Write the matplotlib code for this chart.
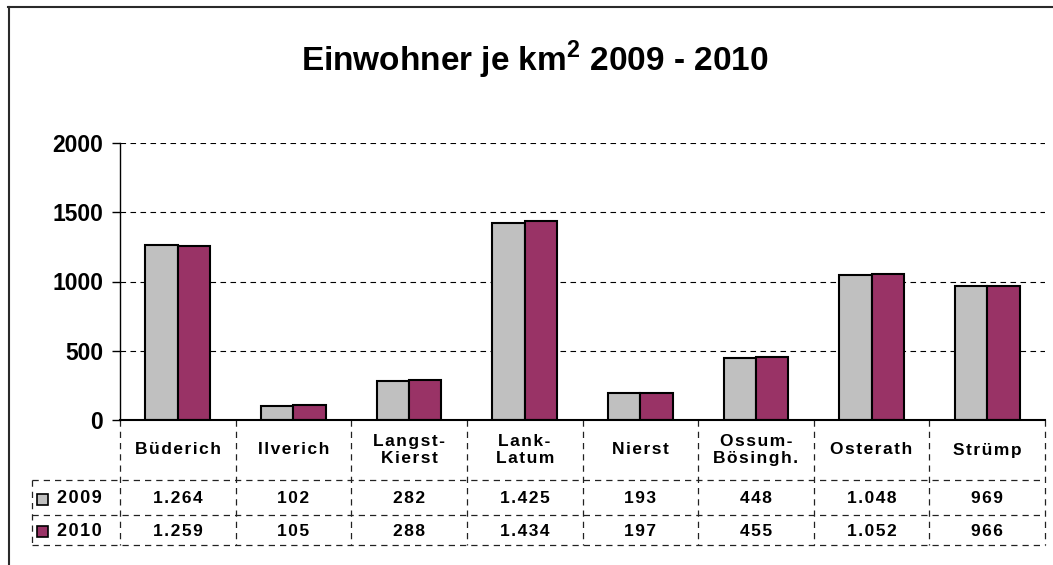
import matplotlib.pyplot as plt
from matplotlib.patches import Rectangle

## Daten ##
orte = ["Büderich", "Ilverich", "Langst-\nKierst", "Lank-\nLatum", "Nierst",
        "Ossum-\nBösingh.", "Osterath", "Strümp"]
werte_2009 = [1264, 102, 282, 1425, 193, 448, 1048, 969]
werte_2010 = [1259, 105, 288, 1434, 197, 455, 1052, 966]
jahre = ["2009", "2010"]
y_ticks = [0, 500, 1000, 1500, 2000]
farben = ["#C0C0C0", "#993366"]

plt.rcParams['font.family'] = ['Liberation Sans', 'DejaVu Sans']
plt.rcParams['font.weight'] = 'bold'
plt.rcParams['mathtext.fontset'] = 'custom'
plt.rcParams['mathtext.bf'] = 'Liberation Sans:bold'
plt.rcParams['mathtext.rm'] = 'Liberation Sans:bold'

def fmt(v):
    # deutsche Tausendertrennung
    return f"{v:,}".replace(",", ".")

def gesperrt(s, sp="\u200a"):
    # Sperrschrift wie im Original
    return "\n".join(sp.join(z) for z in s.split("\n"))

W, H = 1053, 565
fig = plt.figure(figsize=(W / 100, H / 100), dpi=100)

# Layout in Pixeln
x0, x1 = 120, 1045
y_top, y_zero = 143, 420
cw = (x1 - x0) / len(orte)
ax = fig.add_axes([x0 / W, 1 - y_zero / H, (x1 - x0) / W, (y_zero - y_top) / H])

pos = [i + 0.5 for i in range(len(orte))]
bw = 0.28
for k, werte in enumerate([werte_2009, werte_2010]):
    ax.bar([p + (k - 0.5) * bw for p in pos], werte, bw, color=farben[k],
           edgecolor="black", linewidth=1.5, zorder=3)

ax.set_xlim(0, len(orte))
ax.set_ylim(0, 2000)
ax.set_yticks(y_ticks)
ax.set_xticks([])
ax.yaxis.grid(True, linestyle=(0, (5, 4)), color="black", linewidth=0.8)
ax.set_axisbelow(True)
for s in ["top", "right"]:
    ax.spines[s].set_visible(False)
ax.spines["left"].set_linewidth(1)
ax.spines["bottom"].set_linewidth(1.5)
ax.spines["bottom"].set_zorder(4)
ax.tick_params(axis="y", length=6, width=1, pad=6, labelsize=16.5)
for lbl in ax.get_yticklabels():
    lbl.set_fontweight("bold")

# Overlay in Pixelkoordinaten fuer Rahmen, Titel und Tabelle
tab = fig.add_axes([0, 0, 1, 1], zorder=-1)
tab.set_xlim(0, W)
tab.set_ylim(H, 0)
tab.axis("off")

tab.plot([8, W], [6.5, 6.5], color="#2a2a2a", lw=1.5)
tab.plot([8.5, 8.5], [6.5, H], color="#2a2a2a", lw=1.5)

tab.text(535, 71, r"Einwohner je km$^{\mathbf{2}}$ 2009 - 2010", ha="center",
         va="baseline", fontsize=24, fontweight="bold")

dash = dict(color="#222222", lw=0.9, linestyle=(0, (5, 4)))
y_kat, y_r1, y_r2, y_end = 420, 480, 515, 545
x_leg = 32
for k in range(len(orte) + 1):
    tab.plot([x0 + k * cw] * 2, [y_kat, y_end], **dash)
tab.plot([x_leg, x_leg], [y_r1, y_end], **dash)
for yy in [y_r1, y_r2, y_end]:
    tab.plot([x_leg, x1], [yy, yy], **dash)

zeilen = [(y_r1, y_r2), (y_r2, y_end)]
for i, ort in enumerate(orte):
    cx = x0 + (i + 0.5) * cw
    tab.text(cx, (y_kat + y_r1) / 2, gesperrt(ort), ha="center", va="center",
             fontsize=12.5, fontweight="bold", linespacing=1.15)
    for r, werte in enumerate([werte_2009, werte_2010]):
        yc = (zeilen[r][0] + zeilen[r][1]) / 2 + 1
        tab.text(cx, yc, gesperrt(fmt(werte[i])), ha="center", va="center",
                 fontsize=12.5, fontweight="bold")

for r, jahr in enumerate(jahre):
    yc = (zeilen[r][0] + zeilen[r][1]) / 2 + 1
    tab.add_patch(Rectangle((37, yc - 5), 11, 11, facecolor=farben[r],
                            edgecolor="black", lw=1.2))
    tab.text(57, yc, gesperrt(jahr), ha="left", va="center", fontsize=13,
             fontweight="bold")

fig.savefig("out.png", dpi=100)
